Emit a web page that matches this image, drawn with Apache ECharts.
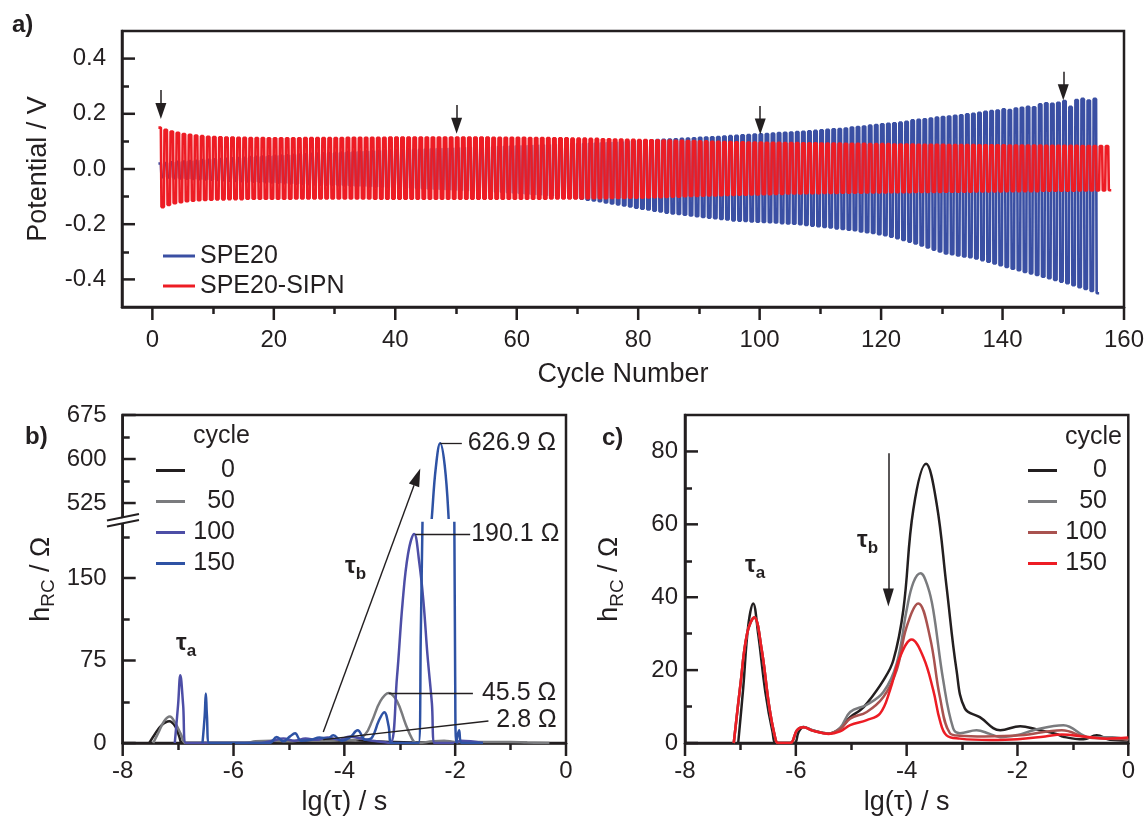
<!DOCTYPE html>
<html>
<head>
<meta charset="utf-8">
<title>SPE20 cycling and DRT</title>
<script src="https://cdn.jsdelivr.net/npm/echarts@6.0.0/dist/echarts.min.js"></script>
<style>
  html, body { margin: 0; padding: 0; background: #fff; }
  #chart { width: 1148px; height: 821px; }
</style>
</head>
<body>
<div id="chart"></div>
<script>
// ---- 1. Data ----
// a) upper / lower potential of every cycle (V), cycle 1..n
const spe20Top = [
  0.020,0.022,0.024,0.026,0.027,0.029,0.030,0.032,0.033,0.035,
  0.036,0.037,0.039,0.040,0.041,0.043,0.044,0.045,0.046,0.048,
  0.049,0.050,0.051,0.052,0.053,0.055,0.056,0.057,0.058,0.059,
  0.060,0.061,0.062,0.063,0.064,0.065,0.066,0.067,0.068,0.069,
  0.070,0.071,0.071,0.072,0.073,0.074,0.075,0.075,0.076,0.077,
  0.078,0.079,0.079,0.080,0.081,0.082,0.082,0.083,0.084,0.085,
  0.085,0.086,0.087,0.088,0.088,0.089,0.090,0.091,0.092,0.092,
  0.093,0.094,0.095,0.096,0.097,0.098,0.099,0.100,0.101,0.102,
  0.103,0.104,0.105,0.106,0.107,0.108,0.109,0.110,0.111,0.113,
  0.114,0.115,0.116,0.118,0.119,0.120,0.122,0.123,0.125,0.126,
  0.127,0.128,0.130,0.131,0.132,0.134,0.135,0.137,0.138,0.140,
  0.142,0.144,0.145,0.147,0.150,0.152,0.154,0.157,0.159,0.162,
  0.164,0.166,0.168,0.171,0.176,0.178,0.180,0.183,0.186,0.188,
  0.190,0.193,0.195,0.198,0.200,0.204,0.207,0.210,0.212,0.216,
  0.214,0.219,0.222,0.225,0.224,0.234,0.238,0.236,0.240,0.246,
  0.225,0.250,0.254,0.248,0.254
];
const spe20Bottom = [
  -0.030,-0.031,-0.033,-0.034,-0.035,-0.036,-0.037,-0.038,-0.039,-0.040,
  -0.041,-0.042,-0.043,-0.044,-0.045,-0.046,-0.047,-0.048,-0.049,-0.050,
  -0.051,-0.052,-0.053,-0.054,-0.055,-0.056,-0.057,-0.057,-0.058,-0.059,
  -0.060,-0.061,-0.062,-0.062,-0.063,-0.064,-0.065,-0.066,-0.067,-0.068,
  -0.069,-0.070,-0.071,-0.072,-0.073,-0.074,-0.075,-0.076,-0.077,-0.078,
  -0.079,-0.080,-0.081,-0.082,-0.083,-0.084,-0.085,-0.087,-0.088,-0.090,
  -0.091,-0.093,-0.094,-0.096,-0.098,-0.099,-0.101,-0.103,-0.105,-0.108,
  -0.111,-0.114,-0.117,-0.121,-0.125,-0.128,-0.132,-0.136,-0.140,-0.144,
  -0.147,-0.151,-0.154,-0.158,-0.161,-0.163,-0.166,-0.168,-0.171,-0.174,
  -0.176,-0.178,-0.181,-0.183,-0.186,-0.187,-0.188,-0.190,-0.191,-0.192,
  -0.193,-0.194,-0.196,-0.197,-0.198,-0.200,-0.203,-0.205,-0.207,-0.210,
  -0.212,-0.215,-0.217,-0.220,-0.222,-0.226,-0.229,-0.232,-0.236,-0.240,
  -0.245,-0.251,-0.257,-0.263,-0.270,-0.277,-0.284,-0.292,-0.299,-0.306,
  -0.309,-0.313,-0.317,-0.320,-0.324,-0.330,-0.336,-0.342,-0.349,-0.355,
  -0.361,-0.367,-0.373,-0.378,-0.384,-0.390,-0.396,-0.402,-0.408,-0.414,
  -0.421,-0.428,-0.435,-0.442,-0.450
];
const sipnTop = [
  0.150,0.142,0.136,0.131,0.127,0.124,0.121,0.119,0.117,0.116,
  0.115,0.114,0.114,0.113,0.113,0.112,0.112,0.112,0.111,0.111,
  0.111,0.111,0.111,0.111,0.112,0.112,0.112,0.112,0.112,0.112,
  0.112,0.113,0.113,0.113,0.113,0.113,0.113,0.113,0.114,0.114,
  0.114,0.114,0.114,0.114,0.114,0.114,0.114,0.114,0.114,0.114,
  0.114,0.114,0.114,0.114,0.114,0.113,0.113,0.113,0.113,0.113,
  0.113,0.112,0.112,0.112,0.112,0.111,0.111,0.111,0.110,0.110,
  0.110,0.109,0.109,0.108,0.108,0.107,0.107,0.106,0.106,0.105,
  0.105,0.104,0.104,0.103,0.103,0.102,0.102,0.101,0.101,0.100,
  0.100,0.099,0.099,0.098,0.098,0.097,0.097,0.096,0.096,0.096,
  0.095,0.095,0.095,0.094,0.094,0.094,0.093,0.093,0.093,0.092,
  0.092,0.092,0.092,0.091,0.091,0.091,0.091,0.090,0.090,0.090,
  0.090,0.089,0.089,0.089,0.089,0.088,0.088,0.088,0.088,0.088,
  0.087,0.087,0.087,0.087,0.087,0.086,0.086,0.086,0.086,0.086,
  0.085,0.085,0.085,0.085,0.085,0.085,0.084,0.084,0.084,0.084,
  0.084,0.084,0.083,0.083,0.083,0.083,0.083
];
const sipnBottom = [
  -0.138,-0.130,-0.124,-0.120,-0.117,-0.115,-0.113,-0.112,-0.111,-0.110,
  -0.110,-0.109,-0.109,-0.109,-0.108,-0.108,-0.108,-0.108,-0.108,-0.108,
  -0.108,-0.108,-0.107,-0.107,-0.107,-0.107,-0.107,-0.107,-0.107,-0.107,
  -0.107,-0.107,-0.107,-0.107,-0.107,-0.108,-0.108,-0.108,-0.108,-0.108,
  -0.108,-0.108,-0.108,-0.108,-0.108,-0.108,-0.108,-0.108,-0.108,-0.108,
  -0.108,-0.108,-0.108,-0.108,-0.108,-0.108,-0.108,-0.108,-0.108,-0.108,
  -0.108,-0.108,-0.108,-0.108,-0.107,-0.107,-0.107,-0.107,-0.107,-0.107,
  -0.106,-0.106,-0.106,-0.106,-0.105,-0.105,-0.105,-0.104,-0.104,-0.104,
  -0.103,-0.102,-0.102,-0.101,-0.100,-0.100,-0.099,-0.098,-0.098,-0.097,
  -0.096,-0.096,-0.095,-0.094,-0.094,-0.093,-0.093,-0.092,-0.092,-0.091,
  -0.091,-0.090,-0.090,-0.089,-0.089,-0.089,-0.088,-0.088,-0.088,-0.087,
  -0.087,-0.087,-0.086,-0.086,-0.086,-0.086,-0.085,-0.085,-0.085,-0.085,
  -0.084,-0.084,-0.084,-0.084,-0.083,-0.083,-0.083,-0.083,-0.083,-0.082,
  -0.082,-0.082,-0.082,-0.082,-0.081,-0.081,-0.081,-0.081,-0.081,-0.080,
  -0.080,-0.080,-0.080,-0.080,-0.080,-0.079,-0.079,-0.079,-0.079,-0.079,
  -0.079,-0.078,-0.078,-0.078,-0.078,-0.078,-0.077
];
// arrows marking the analysed cycles: [cycle, from V, to V]
const cycleArrows = [[1.4, 0.286, 0.210], [50.1, 0.232, 0.157], [100.1, 0.228, 0.154], [150, 0.352, 0.278]];

// b) DRT of SPE20, [lg(tau), h_RC]
const drtB0 = [[-7.52,0],[-7.42,8],[-7.3,16],[-7.16,19.7],[-7.05,15],[-6.98,6],[-6.92,0],[-5.6,0],[-5.3,1],[-5.0,1.5],
  [-4.7,2],[-4.38,2.8],[-4.1,2],[-3.8,2.5],[-3.5,1.5],[-3.2,1],[-2.8,0.5],[-2.0,0.3],[-1.0,0.2],[-0.7,0]];
const drtB50 = [[-7.45,0],[-7.35,10],[-7.25,20],[-7.15,24],[-7.05,18],[-6.95,8],[-6.86,0],[-5.8,0],[-5.6,1.5],[-5.3,2],
  [-5.0,1.5],[-4.7,2.5],[-4.4,2],[-4.1,2.5],[-3.8,3],[-3.62,8],[-3.5,20],[-3.35,38],[-3.2,45.5],[-3.05,38],[-2.9,18],
  [-2.78,4],[-2.7,0],[-2.4,1.5],[-2.2,2],[-2.0,1],[-1.5,0.8],[-1.0,1],[-0.7,0.5],[-0.3,0]];
const drtB100 = [[-7.06,0],[-7.0,35],[-6.96,61.5],[-6.91,35],[-6.86,0],[-5.5,0],[-5.3,2],[-5.1,4],[-4.9,2],[-4.7,4],
  [-4.5,3],[-4.3,5],[-4.1,3],[-3.9,6],[-3.7,4],[-3.5,2],[-3.3,1],[-3.17,0],[-3.05,60],[-2.95,127],[-2.85,172],
  [-2.74,190.1],[-2.65,165],[-2.57,127],[-2.5,80],[-2.42,36],[-2.37,0],[-2.0,0],[-1.9,2],[-1.5,0]];
const drtB150 = [[-6.56,0],[-6.52,25],[-6.5,45],[-6.48,25],[-6.44,0],[-5.35,0],[-5.22,5.5],[-5.1,1.5],[-4.98,6],
  [-4.89,8.8],[-4.78,2],[-4.6,3],[-4.45,5],[-4.3,4],[-4.2,7],[-4.05,2],[-3.9,5],[-3.76,11.5],[-3.62,3],[-3.5,5],
  [-3.38,20],[-3.28,28],[-3.2,15],[-3.15,0],[-2.66,0],[-2.62,100],[-2.59,200],[-2.52,380],[-2.42,502],[-2.35,585],
  [-2.27,626.9],[-2.19,590],[-2.12,502],[-2.05,350],[-2.015,200],[-2.0,60],[-1.98,0],[-1.93,11.5],[-1.88,0],[-1.5,0]];

// c) DRT of SPE20-SIPN
const drtC0 = [[-7.04,0],[-6.95,15],[-6.86,32],[-6.77,38.3],[-6.68,30],[-6.55,14],[-6.42,3],[-6.35,0],[-6.03,0],
  [-5.95,3],[-5.86,4.4],[-5.7,3.5],[-5.41,2.6],[-5.2,4],[-5.02,7.1],[-4.84,9],[-4.72,10.8],[-4.42,17.2],[-4.24,22.7],
  [-4.06,36.5],[-3.88,64],[-3.65,76.6],[-3.46,65.8],[-3.28,42.9],[-3.1,20],[-2.95,9.5],[-2.68,7.1],[-2.31,3.5],
  [-1.95,4.6],[-1.65,3.7],[-1.3,2.5],[-1.17,1.7],[-0.81,1],[-0.57,2.1],[-0.33,0.9],[0,0.7]];
const drtC50 = [[-7.12,0],[-7.0,16],[-6.88,30],[-6.75,34.5],[-6.62,26],[-6.48,10],[-6.38,2],[-6.32,0],[-6.1,0],
  [-5.98,3.5],[-5.86,4.4],[-5.7,3.5],[-5.41,2.6],[-5.2,4.2],[-5.02,8.5],[-4.72,10.5],[-4.42,14],[-4.18,21.8],
  [-4.0,36.5],[-3.88,44],[-3.75,46.6],[-3.62,43],[-3.52,36.5],[-3.34,17.2],[-3.16,4],[-3.04,2.7],[-2.74,3.5],
  [-2.5,2.5],[-2.31,1.6],[-2.0,2.2],[-1.71,3.5],[-1.17,4.9],[-0.69,1.6],[-0.29,1.6],[0,0.8]];
const drtC100 = [[-7.12,0],[-7.0,16],[-6.88,30],[-6.75,34.3],[-6.62,26],[-6.48,10],[-6.38,2],[-6.32,0],[-6.1,0],
  [-5.98,3.5],[-5.86,4.3],[-5.7,3.4],[-5.41,2.6],[-5.2,3.8],[-5.02,6.7],[-4.72,8.5],[-4.42,12.6],[-4.18,20],
  [-4.0,31.9],[-3.79,38.3],[-3.58,29.1],[-3.4,12.6],[-3.22,2.7],[-3.04,2],[-2.6,1.8],[-1.95,2.1],[-1.2,3.5],
  [-0.73,1.5],[-0.12,1.1],[0,1]];
const drtC150 = [[-7.12,0],[-7.0,16],[-6.88,30],[-6.75,34.5],[-6.62,26],[-6.48,10],[-6.38,2],[-6.32,0],[-6.1,0],
  [-5.98,3.5],[-5.86,4.3],[-5.7,3.4],[-5.41,2.5],[-5.2,3.2],[-5.02,4.9],[-4.72,6.3],[-4.48,8.1],[-4.3,14.5],
  [-4.12,23.6],[-3.91,28.4],[-3.7,23.6],[-3.52,14.5],[-3.4,6.2],[-3.28,2.1],[-3.04,1.2],[-2.5,0.8],[-2.0,1],
  [-1.5,1.8],[-1.2,2.3],[-0.8,1.8],[-0.4,1.2],[0,1.5]];

// tick values
const cycleTicks = [0, 20, 40, 60, 80, 100, 120, 140, 160];
const cycleMinor = [10, 30, 50, 70, 90, 110, 130, 150];
const potTicks = [-0.4, -0.2, 0, 0.2, 0.4];
const potMinor = [-0.3, -0.1, 0.1, 0.3];
const lgTicks = [-8, -6, -4, -2, 0];
const lgMinor = [-7, -5, -3, -1];
const hiTicks = [525, 600, 675];
const hiMinor = [562.5, 637.5];
const loTicks = [0, 75, 150];
const loMinor = [37.5, 112.5, 187.5];
const cTicks = [0, 20, 40, 60, 80];
const cMinor = [10, 30, 50, 70];

// ---- 2. Styles / helpers ----
const INK = '#231f20';
const FONT = '"Liberation Sans", Arial, Helvetica, sans-serif';
const BLUE = '#3a4fa3', RED = '#ed1c24', GRAY = '#7a7b7e';
const B100 = '#4d4ea6', B150 = '#2e52a4', C100 = '#a9524f';

function cycleTrace(tops, bottoms) {
  const pts = [];
  for (let i = 0; i < tops.length; i++) {
    const c = i + 1;
    pts.push([c, tops[i]], [c + 0.4, tops[i]], [c + 0.5, bottoms[i]], [c + 0.9, bottoms[i]]);
  }
  return pts;
}

const lineSt = { color: INK, width: 2.5 };
// axis carrying the line, the labels and the name
function labelAxis(o) {
  return Object.assign({
    type: 'value', position: o.pos, splitLine: { show: false },
    axisLine: { show: true, onZero: false, lineStyle: lineSt },
    axisTick: { show: false },
    axisLabel: { show: true, customValues: o.ticks, margin: o.margin, fontSize: 24, color: INK, fontFamily: FONT, formatter: o.fmt },
    nameTextStyle: { fontSize: 27, color: INK, fontFamily: FONT }
  }, o.extra);
}
// axis that only draws the short minor ticks
function minorAxis(pos, inside, ticks, extra) {
  return Object.assign({
    type: 'value', position: pos, splitLine: { show: false },
    axisLine: { show: false, onZero: false },
    axisLabel: { show: false },
    axisTick: { show: true, inside: inside, length: 7, lineStyle: { color: INK, width: 2.5 }, customValues: ticks }
  }, extra);
}
function hidden(extra) {
  return Object.assign({ type: 'value', show: false, splitLine: { show: false }, axisLine: { onZero: false } }, extra);
}
// long major ticks, drawn by a custom series at [value, axis base] through the axes' scales
function tickSeries(xi, yi, points, dx, dy) {
  return {
    type: 'custom', xAxisIndex: xi, yAxisIndex: yi, data: points, encode: { x: 0, y: 1 },
    silent: true, animation: false, clip: false, z: 20,
    renderItem: (params, api) => {
      const p = api.coord([api.value(0), api.value(1)]);
      return { type: 'line', shape: { x1: p[0], y1: p[1], x2: p[0] + dx, y2: p[1] + dy },
        style: { stroke: INK, lineWidth: 2.5 } };
    }
  };
}
function drt(name, data, color, xi, yi, extra) {
  return Object.assign({
    name: name, type: 'line', xAxisIndex: xi, yAxisIndex: yi, data: data,
    smooth: 0.4, showSymbol: false, symbol: 'none', animation: false, clip: true,
    lineStyle: { color: color, width: 2.5 }, itemStyle: { color: color }
  }, extra);
}
function leader(coordFrom, coordTo, text, dist) {
  return [{ coord: coordFrom }, { coord: coordTo, label: { formatter: text, distance: dist } }];
}
const leaderStyle = {
  symbol: 'none', silent: true, animation: false,
  lineStyle: { color: INK, width: 1.3, type: 'solid' },
  label: { show: true, position: 'end', fontSize: 25, color: INK, fontFamily: FONT },
  emphasis: { disabled: true }
};
const hRCName = '{h|h}{s|RC}{h| / Ω}{p| }';
const hRCRich = {
  h: { fontSize: 27, lineHeight: 27, verticalAlign: 'top', color: INK, fontFamily: FONT },
  s: { fontSize: 19, lineHeight: 19, verticalAlign: 'bottom', color: INK, fontFamily: FONT },
  p: { fontSize: 2, lineHeight: 31 }
};
const tauRich = {
  t: { fontSize: 24, lineHeight: 24, verticalAlign: 'top', fontWeight: 'bold', fill: INK, color: INK, fontFamily: FONT },
  s: { fontSize: 17, lineHeight: 17, verticalAlign: 'bottom', fontWeight: 'bold', fill: INK, color: INK, fontFamily: FONT },
  p: { fontSize: 2, lineHeight: 29 }
};
function txt(id, left, top, text, size, bold) {
  return { type: 'text', id: id, left: left, top: top, z: 50,
    style: { text: text, fontSize: size, fontWeight: bold ? 'bold' : 'normal', fontFamily: FONT, fill: INK } };
}
function tau(id, left, top, sub) {
  return { type: 'text', id: id, left: left, top: top, z: 50,
    style: { text: '{t|τ}{s|' + sub + '}{p| }', rich: tauRich, fill: INK } };
}
const cycleLegendText = {
  fontSize: 25, color: INK, fontFamily: FONT,
  rich: { r: { width: 45, align: 'right', fontSize: 25, lineHeight: 26, color: INK, fontFamily: FONT } }
};

// ---- 3. Chart ----
const chart = echarts.init(document.getElementById('chart'), null, { renderer: 'canvas' });
const option = {
  animation: false,
  backgroundColor: '#fff',
  textStyle: { fontFamily: FONT, color: INK },
  grid: [
    { left: 122, top: 31, width: 1002, height: 276, show: true, borderColor: INK, borderWidth: 2.5, outerBoundsMode: 'none' },
    { left: 122.7, top: 415, width: 443.3, height: 102.7, outerBoundsMode: 'none' },
    { left: 122.7, top: 523, width: 443.3, height: 220, outerBoundsMode: 'none' },
    { left: 122.7, top: 415, width: 443.3, height: 328, show: true, borderColor: INK, borderWidth: 2.5, outerBoundsMode: 'none' },
    { left: 685, top: 415, width: 443.3, height: 328, show: true, borderColor: INK, borderWidth: 2.5, outerBoundsMode: 'none' }
  ],
  xAxis: [
    // 0-1: panel a
    labelAxis({ pos: 'bottom', ticks: cycleTicks, margin: 21, extra: { gridIndex: 0, min: -5, max: 160,
      name: 'Cycle Number', nameLocation: 'middle', nameGap: 54 } }),
    minorAxis('bottom', false, cycleMinor, { gridIndex: 0, min: -5, max: 160 }),
    // 2-3: panel b lower part
    labelAxis({ pos: 'bottom', ticks: lgTicks, margin: 16, extra: { gridIndex: 2, min: -8, max: 0,
      name: 'lg(τ) / s', nameLocation: 'middle', nameGap: 46 } }),
    minorAxis('bottom', false, lgMinor, { gridIndex: 2, min: -8, max: 0 }),
    // 4: panel b upper part, 5: panel b frame
    hidden({ gridIndex: 1, min: -8, max: 0 }),
    hidden({ gridIndex: 3, min: -8, max: 0 }),
    // 6-7: panel c
    labelAxis({ pos: 'bottom', ticks: lgTicks, margin: 16, extra: { gridIndex: 4, min: -8, max: 0,
      name: 'lg(τ) / s', nameLocation: 'middle', nameGap: 46 } }),
    minorAxis('bottom', false, lgMinor, { gridIndex: 4, min: -8, max: 0 })
  ],
  yAxis: [
    // 0-1: panel a
    labelAxis({ pos: 'left', ticks: potTicks, margin: 16, fmt: v => v.toFixed(1), extra: { gridIndex: 0, min: -0.5, max: 0.5,
      name: 'Potential / V', nameLocation: 'middle', nameGap: 70 } }),
    minorAxis('left', true, potMinor, { gridIndex: 0, min: -0.5, max: 0.5 }),
    // 2-3: panel b upper part
    labelAxis({ pos: 'left', ticks: hiTicks, margin: 16, extra: { gridIndex: 1, min: 500, max: 675 } }),
    minorAxis('left', true, hiMinor, { gridIndex: 1, min: 500, max: 675 }),
    // 4-5: panel b lower part
    labelAxis({ pos: 'left', ticks: loTicks, margin: 16, extra: { gridIndex: 2, min: 0, max: 200 } }),
    minorAxis('left', true, loMinor, { gridIndex: 2, min: 0, max: 200 }),
    // 6: panel b frame, carries the title
    { type: 'value', gridIndex: 3, position: 'left', min: 0, max: 1, splitLine: { show: false },
      axisLine: { show: false, onZero: false }, axisTick: { show: false }, axisLabel: { show: false },
      name: hRCName, nameLocation: 'middle', nameGap: 64,
      nameTextStyle: { color: INK, fontFamily: FONT, rich: hRCRich } },
    // 7-8: panel c
    labelAxis({ pos: 'left', ticks: cTicks, margin: 7, extra: { gridIndex: 4, min: 0, max: 90,
      name: hRCName, nameLocation: 'middle', nameGap: 58,
      nameTextStyle: { color: INK, fontFamily: FONT, rich: hRCRich } } }),
    minorAxis('left', true, cMinor, { gridIndex: 4, min: 0, max: 90 })
  ],
  legend: [
    { data: ['SPE20', 'SPE20-SIPN'], orient: 'vertical', left: 163, top: 243, padding: 0, itemGap: 4,
      itemWidth: 32, itemHeight: 3, icon: 'rect', selectedMode: false,
      textStyle: { fontSize: 25, lineHeight: 26, color: INK, fontFamily: FONT } },
    { data: ['b0', 'b50', 'b100', 'b150'], orient: 'vertical', left: 156, top: 458, padding: 0, itemGap: 6,
      itemWidth: 29, itemHeight: 3, icon: 'rect', selectedMode: false,
      formatter: n => '{r|' + n.slice(1) + '}', textStyle: cycleLegendText },
    { data: ['c0', 'c50', 'c100', 'c150'], orient: 'vertical', left: 1028, top: 458, padding: 0, itemGap: 6,
      itemWidth: 29, itemHeight: 3, icon: 'rect', selectedMode: false,
      formatter: n => '{r|' + n.slice(1) + '}', textStyle: cycleLegendText }
  ],
  series: [
    { name: 'SPE20', type: 'line', xAxisIndex: 0, yAxisIndex: 0, data: cycleTrace(spe20Top, spe20Bottom),
      showSymbol: false, symbol: 'none', lineStyle: { color: BLUE, width: 2.6 }, itemStyle: { color: BLUE }, z: 2 },
    { name: 'SPE20-SIPN', type: 'line', xAxisIndex: 0, yAxisIndex: 0, data: cycleTrace(sipnTop, sipnBottom),
      showSymbol: false, symbol: 'none', lineStyle: { color: RED, width: 2.6 }, itemStyle: { color: RED }, z: 3,
      markLine: { symbol: ['none', 'triangle'], symbolSize: [11, 16], silent: true, animation: false,
        lineStyle: { color: INK, width: 1.5, type: 'solid' }, label: { show: false }, emphasis: { disabled: true },
        data: cycleArrows.map(a => [{ coord: [a[0], a[1]] }, { coord: [a[0], a[2]] }]) } },
    drt('b0', drtB0, INK, 2, 4, { markLine: Object.assign({}, leaderStyle,
      { data: [leader([-4.38, 3.1], [-1.40, 20], '2.8 Ω', 8)] }) }),
    drt('b50', drtB50, GRAY, 2, 4, { markLine: Object.assign({}, leaderStyle,
      { data: [leader([-3.2, 45.5], [-1.68, 45.5], '45.5 Ω', 9)] }) }),
    drt('b100', drtB100, B100, 2, 4, { markLine: Object.assign({}, leaderStyle,
      { data: [leader([-2.72, 190.1], [-1.73, 190.1], '190.1 Ω', 1)] }) }),
    drt('b150', drtB150, B150, 2, 4),
    drt('b150u', drtB150, B150, 4, 2, { markLine: Object.assign({}, leaderStyle,
      { data: [leader([-2.27, 626.9], [-1.88, 626.9], '626.9 Ω', 6)] }) }),
    drt('c0', drtC0, INK, 6, 7, { markLine: { symbol: ['none', 'triangle'], symbolSize: [11, 18], silent: true,
      animation: false, lineStyle: { color: INK, width: 1.5, type: 'solid' }, label: { show: false },
      emphasis: { disabled: true }, data: [[{ coord: [-4.33, 79.5] }, { coord: [-4.33, 39.9] }]] } }),
    drt('c50', drtC50, GRAY, 6, 7),
    drt('c100', drtC100, C100, 6, 7),
    drt('c150', drtC150, RED, 6, 7),
    // major ticks: x ticks point down out of the plot, y ticks point right into it
    tickSeries(0, 0, cycleTicks.map(v => [v, -0.5]), 0, 13),
    tickSeries(0, 0, potTicks.map(v => [-5, v]), 13, 0),
    tickSeries(2, 4, lgTicks.map(v => [v, 0]), 0, 13),
    tickSeries(2, 4, loTicks.map(v => [-8, v]), 13, 0),
    tickSeries(4, 2, hiTicks.map(v => [-8, v]), 13, 0),
    tickSeries(6, 7, lgTicks.map(v => [v, 0]), 0, 13),
    tickSeries(6, 7, cTicks.map(v => [-8, v]), 13, 0)
  ],
  graphic: { elements: [
    txt('la', 12, 13, 'a)', 24, true),
    txt('lb', 25, 425, 'b)', 24, true),
    txt('lc', 602, 426, 'c)', 24, true),
    txt('cycb', 193, 424, 'cycle', 25, false),
    txt('cycc', 1065, 425, 'cycle', 25, false),
    tau('tab', 176, 631, 'a'),
    tau('tbb', 345, 554, 'b'),
    tau('tac', 745, 553, 'a'),
    tau('tbc', 857, 528, 'b'),
    // axis break marks on the left of panel b
    { type: 'polygon', id: 'brk0', z: 60, shape: { points: [[107, 521], [139, 515], [139, 520.5], [107, 526.5]] },
      style: { fill: '#fff' } },
    { type: 'line', id: 'brk1', z: 61, shape: { x1: 107, y1: 520.5, x2: 139, y2: 514 }, style: { stroke: INK, lineWidth: 2.2 } },
    { type: 'line', id: 'brk2', z: 61, shape: { x1: 107, y1: 526.5, x2: 139, y2: 520 }, style: { stroke: INK, lineWidth: 2.2 } }
  ] }
};
chart.setOption(option);

// ---- 4. Arrow in panel b spanning the axis break ----
const p0 = chart.convertToPixel({ seriesIndex: 2 }, [-4.38, 10]);
const p1 = chart.convertToPixel({ seriesIndex: 6 }, [-2.63, 584]);
const dx = p1[0] - p0[0], dy = p1[1] - p0[1];
const len = Math.sqrt(dx * dx + dy * dy);
const ux = dx / len, uy = dy / len;
const headL = 18, headW = 11;
const bx = p1[0] - ux * headL, by = p1[1] - uy * headL;
chart.setOption({ graphic: { elements: [
  { type: 'line', id: 'arrB', z: 40, shape: { x1: p0[0], y1: p0[1], x2: bx, y2: by }, style: { stroke: INK, lineWidth: 1.4 } },
  { type: 'polygon', id: 'arrBh', z: 40, shape: { points: [[p1[0], p1[1]],
      [bx - uy * headW / 2, by + ux * headW / 2], [bx + uy * headW / 2, by - ux * headW / 2]] }, style: { fill: INK } }
] } });
</script>
</body>
</html>
